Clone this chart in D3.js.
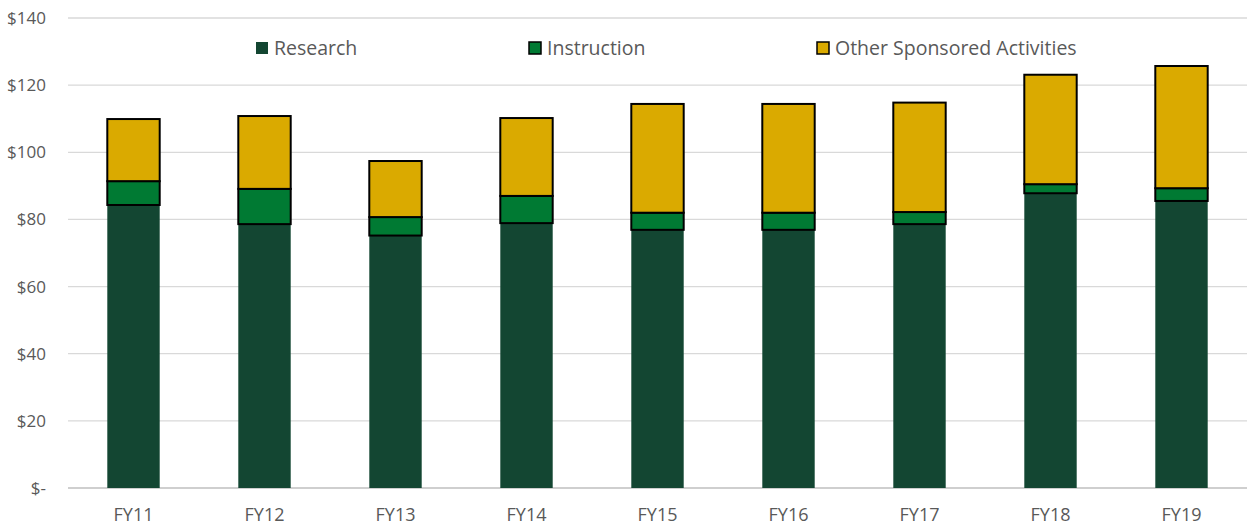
<!DOCTYPE html>
<html>
<head>
<meta charset="utf-8">
<script src="https://cdn.jsdelivr.net/npm/d3@7"></script>
<style>
  body { margin:0; background:#fff; }
  text { font-family: 'Open Sans', 'Lato', sans-serif; fill:#595959; }
</style>
</head>
<body>
<svg id="viewer"></svg>
<script>
var years = ['FY11','FY12','FY13','FY14','FY15','FY16','FY17','FY18','FY19'];
var research    = [84.3, 78.6, 75.2, 78.9, 76.9, 76.9, 78.6, 87.8, 85.5];
var instruction = [7.1, 10.5, 5.5, 8.1, 5.1, 5.1, 3.6, 2.7, 3.8];
var other       = [18.5, 21.7, 16.7, 23.2, 32.4, 32.4, 32.6, 32.6, 36.4];
var yTicks = [0, 20, 40, 60, 80, 100, 120, 140];

var seriesNames = ['Research','Instruction','Other Sponsored Activities'];
var colors = ['#134632','#007a33','#daaa00'];
var strokes = ['none','#000','#000'];

var width = 1249, height = 529;
var margin = {left:68, right:2, top:18, bottom:41};

var viewer = d3.select('#viewer')
  .attr('width', width)
  .attr('height', height);

var rows = years.map(function(y, i){
  return {year:y, Research:research[i], Instruction:instruction[i], 'Other Sponsored Activities':other[i]};
});
var stacked = d3.stack().keys(seriesNames)(rows);

var x = d3.scaleBand()
  .domain(years)
  .range([margin.left, width - margin.right])
  .paddingInner(0.6)
  .paddingOuter(0.3);

var y = d3.scaleLinear()
  .domain([0, 140])
  .range([height - margin.bottom, margin.top]);

// gridlines
viewer.selectAll('.grid')
  .data(yTicks)
  .enter().append('line')
    .attr('class','grid')
    .attr('x1', margin.left)
    .attr('x2', width - margin.right)
    .attr('y1', function(d){return y(d);})
    .attr('y2', function(d){return y(d);})
    .style('stroke', function(d){return d === 0 ? '#bfbfbf' : '#d9d9d9';})
    .style('stroke-width', 1.3);

// y labels
viewer.selectAll('.ylab')
  .data(yTicks)
  .enter().append('text')
    .attr('class','ylab')
    .attr('x', 46)
    .attr('y', function(d){return y(d) + 6;})
    .attr('text-anchor','end')
    .style('font-size','17px')
    .text(function(d){return d === 0 ? '$-' : '$' + d;});

// bars
var layers = viewer.selectAll('.layer')
  .data(stacked)
  .enter().append('g')
    .attr('class','layer')
    .style('fill', function(d, i){return colors[i];})
    .style('stroke', function(d, i){return strokes[i];})
    .style('stroke-width', 2);

layers.selectAll('rect')
  .data(function(d){return d;})
  .enter().append('rect')
    .attr('x', function(d){return x(d.data.year);})
    .attr('width', x.bandwidth())
    .attr('y', function(d){return y(d[1]);})
    .attr('height', function(d){return y(d[0]) - y(d[1]);});

// x labels
viewer.selectAll('.xlab')
  .data(years)
  .enter().append('text')
    .attr('class','xlab')
    .attr('x', function(d){return x(d) + x.bandwidth()/2;})
    .attr('y', height - 8)
    .attr('text-anchor','middle')
    .style('font-size','18px')
    .text(function(d){return d;});

// legend
var legendX = [255, 528, 816];
var legend = viewer.selectAll('.legend')
  .data(seriesNames)
  .enter().append('g')
    .attr('class','legend')
    .attr('transform', function(d, i){return 'translate(' + legendX[i] + ',48)';});

legend.append('rect')
  .attr('x', 1)
  .attr('y', -6)
  .attr('width', 12)
  .attr('height', 12)
  .style('fill', function(d, i){return colors[i];})
  .style('stroke', function(d, i){return strokes[i];})
  .style('stroke-width', 1.5);

legend.append('text')
  .attr('x', 19)
  .attr('y', 7)
  .style('font-size','19.5px')
  .text(function(d){return d;});
</script>
</body>
</html>
